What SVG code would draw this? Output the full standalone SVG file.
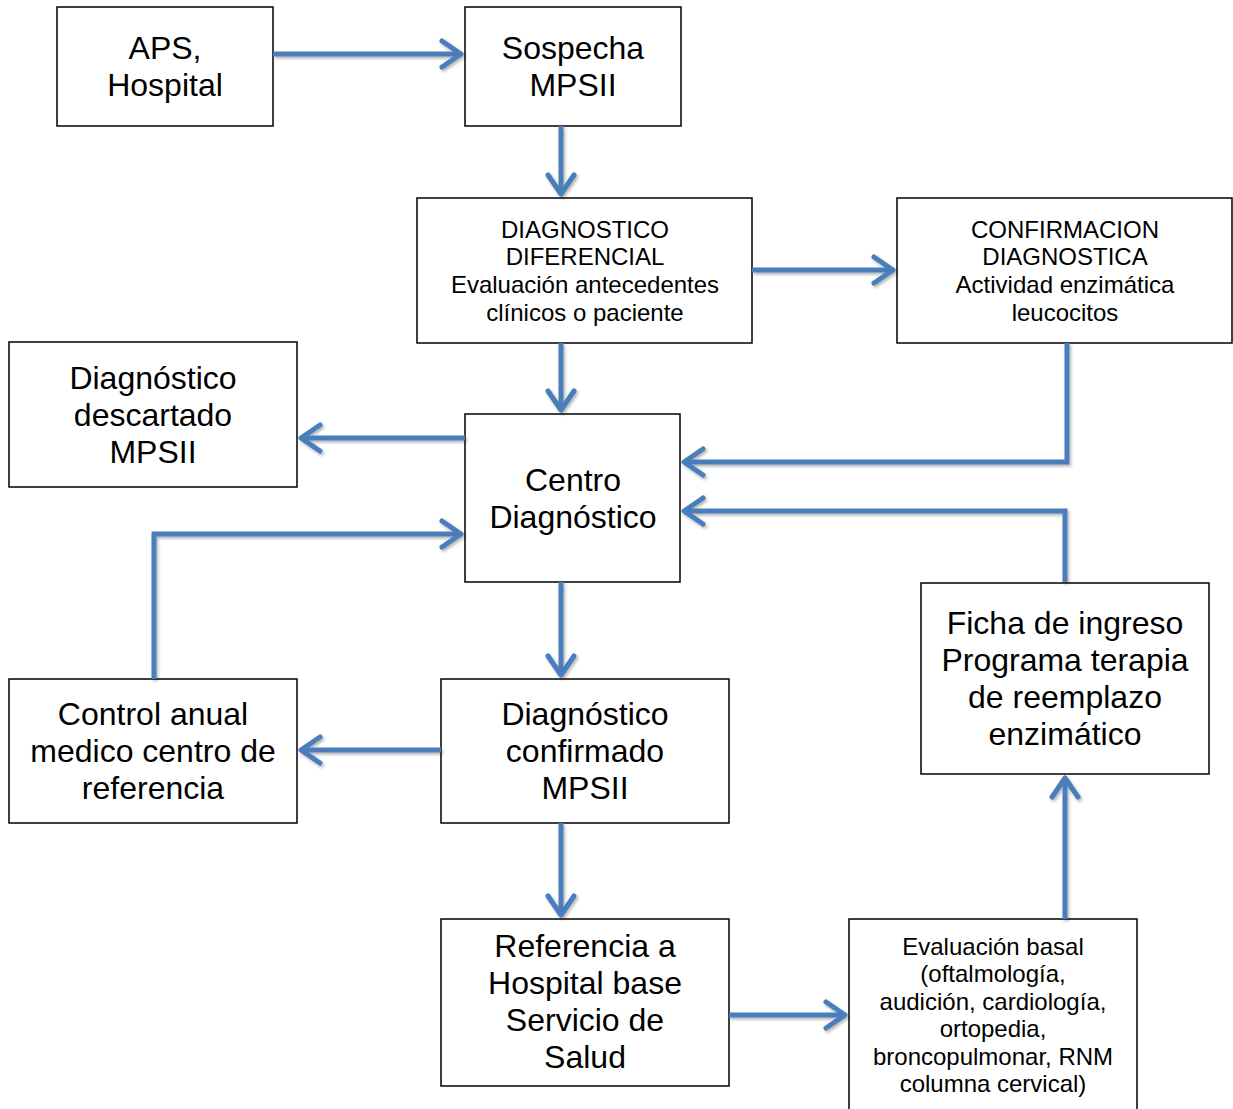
<svg xmlns="http://www.w3.org/2000/svg" width="1233" height="1109" viewBox="0 0 1233 1109">
<style>
.box{fill:#fff;stroke:#000;stroke-width:1.5}
.big{font-family:"Liberation Sans",Arial,sans-serif;font-size:32px;fill:#000;text-anchor:middle}
.sm{font-family:"Liberation Sans",Arial,sans-serif;font-size:24px;fill:#000;text-anchor:middle}
.c{fill:none;stroke:#4a7ebb;stroke-width:5;stroke-linejoin:miter}
</style>
<defs>
<filter id="sh" x="-10%" y="-10%" width="120%" height="120%">
<feDropShadow dx="1.5" dy="2" stdDeviation="1.5" flood-color="#000" flood-opacity="0.3"/>
</filter>
<marker id="ah" markerUnits="userSpaceOnUse" markerWidth="40" markerHeight="40" viewBox="-25 -20 30 40" refX="0" refY="0" orient="auto">
<path d="M-19,-13 L0,0 L-19,13" fill="none" stroke="#4a7ebb" stroke-width="5" stroke-linecap="round" stroke-linejoin="round"/>
</marker>
</defs>
<g id="n1"><rect class="box" x="57" y="7" width="216" height="119"/><text class="big" x="165" y="59">APS,<tspan x="165" y="96">Hospital</tspan></text></g>
<g id="n2"><rect class="box" x="465" y="7" width="216" height="119"/><text class="big" x="573" y="59">Sospecha<tspan x="573" y="96">MPSII</tspan></text></g>
<g id="n3"><rect class="box" x="417" y="198" width="335" height="145"/><text class="sm" x="585" y="237.5">DIAGNOSTICO<tspan x="585" y="265">DIFERENCIAL</tspan><tspan x="585" y="293">Evaluación antecedentes</tspan><tspan x="585" y="320.5">clínicos o paciente</tspan></text></g>
<g id="n4"><rect class="box" x="897" y="198" width="335" height="145"/><text class="sm" x="1065" y="237.5">CONFIRMACION<tspan x="1065" y="265">DIAGNOSTICA</tspan><tspan x="1065" y="293">Actividad enzimática</tspan><tspan x="1065" y="320.5">leucocitos</tspan></text></g>
<g id="n5"><rect class="box" x="9" y="342" width="288" height="145"/><text class="big" x="153" y="389">Diagnóstico<tspan x="153" y="426">descartado</tspan><tspan x="153" y="463">MPSII</tspan></text></g>
<g id="n6"><rect class="box" x="465" y="414" width="215" height="168"/><text class="big" x="573" y="491">Centro<tspan x="573" y="528">Diagnóstico</tspan></text></g>
<g id="n7"><rect class="box" x="9" y="679" width="288" height="144"/><text class="big" x="153" y="725">Control anual<tspan x="153" y="762">medico centro de</tspan><tspan x="153" y="799">referencia</tspan></text></g>
<g id="n8"><rect class="box" x="441" y="679" width="288" height="144"/><text class="big" x="585" y="725">Diagnóstico<tspan x="585" y="762">confirmado</tspan><tspan x="585" y="799">MPSII</tspan></text></g>
<g id="n9"><rect class="box" x="921" y="583" width="288" height="191"/><text class="big" x="1065" y="634">Ficha de ingreso<tspan x="1065" y="671">Programa terapia</tspan><tspan x="1065" y="708">de reemplazo</tspan><tspan x="1065" y="745">enzimático</tspan></text></g>
<g id="n10"><rect class="box" x="441" y="919" width="288" height="167"/><text class="big" x="585" y="957">Referencia a<tspan x="585" y="994">Hospital base</tspan><tspan x="585" y="1031">Servicio de</tspan><tspan x="585" y="1068">Salud</tspan></text></g>
<g id="n11"><rect class="box" x="849" y="919" width="288" height="200"/><text class="sm" x="993" y="954.5">Evaluación basal<tspan x="993" y="982">(oftalmología,</tspan><tspan x="993" y="1009.5">audición, cardiología,</tspan><tspan x="993" y="1037">ortopedia,</tspan><tspan x="993" y="1064.5">broncopulmonar, RNM</tspan><tspan x="993" y="1092">columna cervical)</tspan></text></g>
<g id="connectors" filter="url(#sh)">
<path class="c" marker-end="url(#ah)" d="M273,54 H461"/>
<path class="c" marker-end="url(#ah)" d="M561,126 V194"/>
<path class="c" marker-end="url(#ah)" d="M752,270 H893"/>
<path class="c" marker-end="url(#ah)" d="M561,343 V410"/>
<path class="c" marker-end="url(#ah)" d="M465,438 H301"/>
<path class="c" marker-end="url(#ah)" d="M1067,343 V462 H684"/>
<path class="c" marker-end="url(#ah)" d="M1065,582 V511 H684"/>
<path class="c" marker-end="url(#ah)" d="M154,679 V534 H461"/>
<path class="c" marker-end="url(#ah)" d="M561,582 V675"/>
<path class="c" marker-end="url(#ah)" d="M441,750 H301"/>
<path class="c" marker-end="url(#ah)" d="M561,823 V915"/>
<path class="c" marker-end="url(#ah)" d="M729,1015 H845"/>
<path class="c" marker-end="url(#ah)" d="M1065,919 V778"/>
</g>
</svg>
